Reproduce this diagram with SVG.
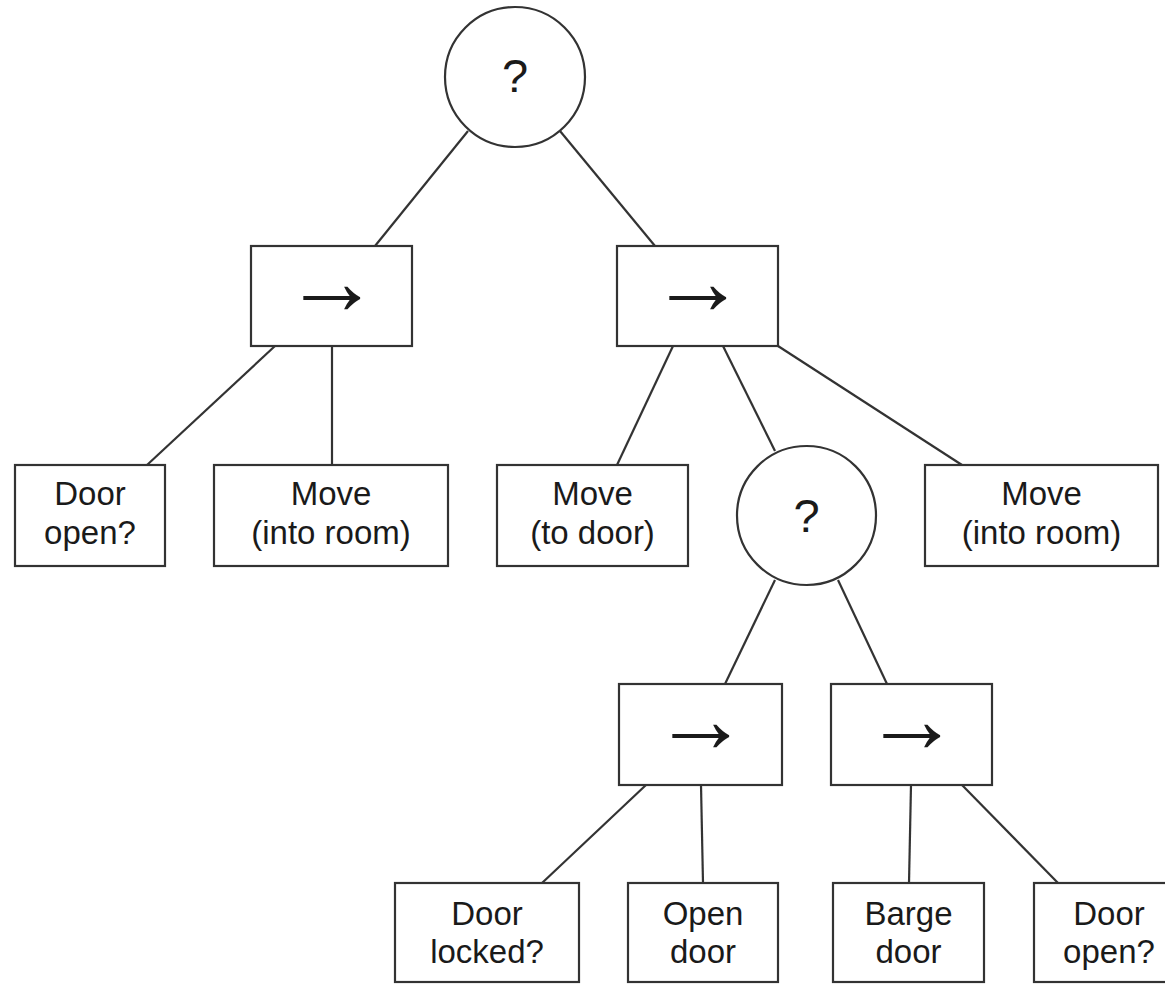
<svg xmlns="http://www.w3.org/2000/svg" width="1165" height="984" viewBox="0 0 1165 984">
<style>
.n{fill:#fff;stroke:#333;stroke-width:2.2}
.c line{stroke:#333;stroke-width:2.2}
.t{font-family:"Liberation Sans",Arial,sans-serif;font-size:33px;fill:#1a1a1a;text-anchor:middle}
.q{font-family:"Liberation Sans",Arial,sans-serif;font-size:47px;fill:#1a1a1a;text-anchor:middle}
.a{font-family:"Liberation Sans","DejaVu Sans",sans-serif;font-size:96px;fill:#1a1a1a;text-anchor:middle}
</style>
<rect width="1165" height="984" fill="#fff"/>
<g class="c" id="connectors">
<line x1="468" y1="131" x2="375" y2="246"/>
<line x1="560" y1="131" x2="655" y2="246"/>
<line x1="275" y1="346" x2="147" y2="465"/>
<line x1="332" y1="346" x2="332" y2="465"/>
<line x1="673" y1="346" x2="617" y2="465"/>
<line x1="723" y1="346" x2="775" y2="451"/>
<line x1="778" y1="346" x2="962" y2="465"/>
<line x1="775" y1="580" x2="725" y2="684"/>
<line x1="838" y1="580" x2="887" y2="684"/>
<line x1="646" y1="785" x2="542" y2="883"/>
<line x1="701" y1="785" x2="703" y2="883"/>
<line x1="911" y1="785" x2="909" y2="883"/>
<line x1="962" y1="785" x2="1058" y2="883"/>
</g>
<g id="sel1"><circle class="n" cx="515" cy="77" r="70"/><text class="q" x="515" y="92">?</text></g>
<g id="seq1"><rect class="n" x="251" y="246" width="161" height="100"/><text class="a" x="331.5" y="313.5">→</text></g>
<g id="seq2"><rect class="n" x="617" y="246" width="161" height="100"/><text class="a" x="697.5" y="313.5">→</text></g>
<g id="door-open-1"><rect class="n" x="15" y="465" width="150" height="101"/><text class="t" x="90" y="505">Door</text><text class="t" x="90" y="544">open?</text></g>
<g id="move-into-1"><rect class="n" x="214" y="465" width="234" height="101"/><text class="t" x="331" y="505">Move</text><text class="t" x="331" y="544">(into room)</text></g>
<g id="move-to-door"><rect class="n" x="497" y="465" width="191" height="101"/><text class="t" x="592.5" y="505">Move</text><text class="t" x="592.5" y="544">(to door)</text></g>
<g id="sel2"><circle class="n" cx="806.5" cy="515.5" r="69.5"/><text class="q" x="806.5" y="532">?</text></g>
<g id="move-into-2"><rect class="n" x="925" y="465" width="233" height="101"/><text class="t" x="1041.5" y="505">Move</text><text class="t" x="1041.5" y="544">(into room)</text></g>
<g id="seq3"><rect class="n" x="619" y="684" width="163" height="101"/><text class="a" x="700.5" y="751.5">→</text></g>
<g id="seq4"><rect class="n" x="831" y="684" width="161" height="101"/><text class="a" x="911.5" y="751.5">→</text></g>
<g id="door-locked"><rect class="n" x="395" y="883" width="184" height="99"/><text class="t" x="487" y="925">Door</text><text class="t" x="487" y="963">locked?</text></g>
<g id="open-door"><rect class="n" x="628" y="883" width="150" height="99"/><text class="t" x="703" y="925">Open</text><text class="t" x="703" y="963">door</text></g>
<g id="barge-door"><rect class="n" x="833" y="883" width="151" height="99"/><text class="t" x="908.5" y="925">Barge</text><text class="t" x="908.5" y="963">door</text></g>
<g id="door-open-2"><rect class="n" x="1034" y="883" width="150" height="99"/><text class="t" x="1109" y="925">Door</text><text class="t" x="1109" y="963">open?</text></g>
</svg>
